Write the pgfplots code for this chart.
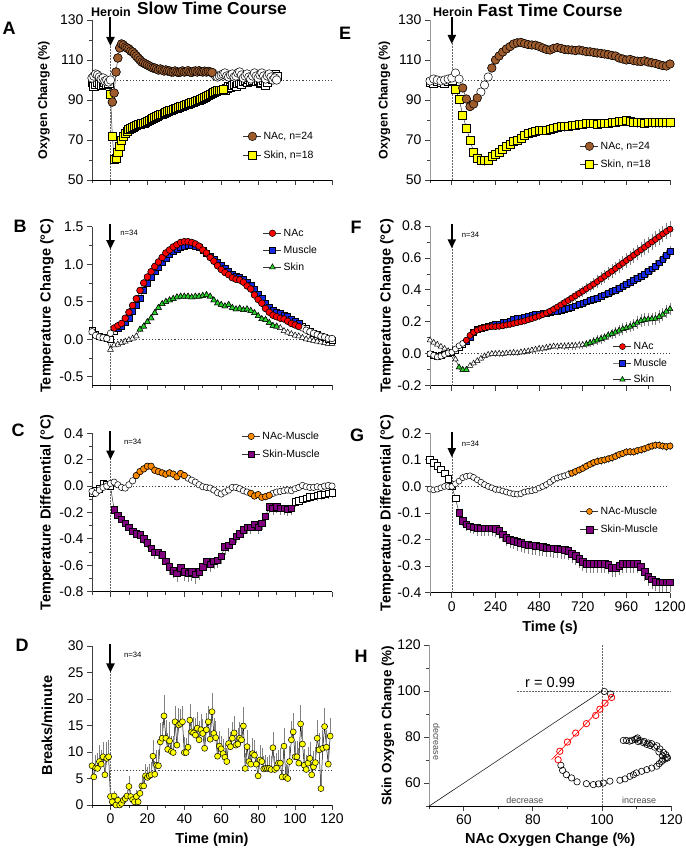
\documentclass[border=0pt]{standalone}
\usepackage{fontspec}
\setmainfont{Liberation Sans}
\usepackage{pgfplots}
\usepackage{pgfplotstable}
\pgfplotsset{compat=1.18}
\usetikzlibrary{arrows.meta}

\definecolor{nacbrown}{RGB}{158,92,45}
\definecolor{skinyel}{RGB}{255,255,0}
\definecolor{nacred}{RGB}{255,0,0}
\definecolor{musblue}{RGB}{20,40,230}
\definecolor{skingreen}{RGB}{40,210,40}
\definecolor{nmorange}{RGB}{255,140,0}
\definecolor{smpurple}{RGB}{128,0,128}

\tikzset{
  harrow/.style={-{Triangle[width=8pt,length=9pt]}, line width=2pt, black},
  vref/.style={dash pattern=on 1.5pt off 1.5pt, line width=0.5pt, black!60},
  href/.style={dash pattern=on 1.2pt off 2pt, line width=0.7pt, black!75},
}

\pgfplotsset{
  prism/.style={scale only axis, anchor=south west, clip=false,
    axis x line*=bottom, axis y line*=left,
    x axis line style={-, line width=0.8pt, black},
    y axis line style={-, line width=0.8pt, black!75},
    tick align=outside, major tick length=5pt, minor tick length=3pt,
    tick style={line width=0.8pt, black!75},
    tick label style={font=\fontsize{14}{14}\selectfont},
    /pgf/number format/assume math mode=true,
    /pgf/number format/1000 sep={},
    legend cell align=left,
    legend style={draw=none, fill=none, font=\fontsize{10.5}{12}\selectfont, anchor=north west, inner sep=0pt, row sep=4pt},
    legend image code/.code={\draw[mark repeat=2,mark phase=2,##1] plot coordinates {(0pt,0pt) (9pt,0pt) (18pt,0pt)};},
    label style={font=\bfseries\fontsize{14.5}{15}\selectfont},
    ylabel style={anchor=center},
    xlabel style={anchor=center},
  },
  slow/.style={xmin=-10, xmax=120, xtick={0,20,40,60,80,100,120}, minor xtick={-10,10,30,50,70,90,110}},
  fast/.style={xmin=-120, xmax=1200, xtick={0,240,480,720,960,1200}, minor xtick={-120,120,360,600,840,1080}},
  dec1/.style={yticklabel style={/pgf/number format/.cd, fixed, fixed zerofill, precision=1}},
  ln/.style={draw=black!80, line width=0.5pt},
  mk/.style={mark options={draw=black, fill=#1, line width=0.5pt, solid}},
  om/.style={only marks, mark options={draw=black, fill=#1, line width=0.5pt, solid}},
  ebx/.style={error bars/y dir=#1, error bars/y explicit, error bars/error mark=none, error bars/error bar style={black!50, line width=0.6pt}},
  ebf/.style 2 args={error bars/y dir=#1, error bars/y fixed=#2, error bars/error mark=none, error bars/error bar style={black!50, line width=0.6pt}},
}

% ---------------- Panel A: oxygen, slow (min) ----------------
\pgfplotstableread{
t nac skin
-10 101 99
-9 102 97
-8 103 98
-7 102.5 99
-6 101.5 98
-5 100.5 97.5
-4 101 98
-3 99.5 99
-2 100 98
-1 99 98.5
0 100 93
1 89 72
2 93.5 60.5
3 104 61
4 111 64
5 116 67
6 118 70
7 117.5 72
8 116.5 73.5
9 116 74.5
10 115.5 75.5
11 114.5 76
12 114 76.5
13 113 77
14 112 77.5
15 111 78
16 110 78
17 109 78.5
18 108.5 78.5
19 108 79
20 107.5 79.5
21 107 80
22 106.5 80.5
23 106 81
24 106 81.5
25 105.5 82
26 105 82.5
27 105.5 83
28 105 83
29 104.5 83.5
30 105 84
31 104.5 84.5
32 104.5 85
33 104 85
34 104 85.5
35 104.5 86
36 104 86
37 103.8 86.5
38 104 87
39 104.5 87
40 104 87.5
41 104.2 88
42 104.6 88
43 104 88.5
44 103.8 89
45 104.3 89
46 104.5 89.5
47 104 90
48 104.6 90
49 104.2 90.5
50 104 91
51 104.4 91.5
52 104 92
53 104.3 92.5
54 104 93
55 103.8 93.5
56 103 94
57 102 94.5
58 101.5 95
59 102 95
60 102.5 95
61 103 95.5
62 103.5 95
63 102 96
64 101.5 97
65 102.5 96.5
66 103 97.5
67 101.5 98
68 102 97
69 103.5 98.5
70 104 99
71 102.5 98
72 101 99.5
73 102 100
74 103 99
75 101.5 100.5
76 100.5 99.5
77 102 100
78 103.5 101
79 102 99.5
80 101 100
81 102.5 98.5
82 103.5 99
83 102 100
84 100.5 97.5
85 102 99
86 103 101
87 101.5 102
88 100 100.5
89 101 103
90 100 102
}\tabA

% ---------------- Panel B: temperature, slow ----------------
\pgfplotstableread{
t nac mus skin
-10 0.10 0.12 0.09
-8 0.05 0.07 0.05
-6 0.03 0.04 0.02
-4 0.02 0.02 0.01
-2 0.01 0.01 0.00
0 0.08 0.00 -0.14
2 0.15 0.10 -0.08
4 0.18 0.14 -0.07
6 0.21 0.17 -0.05
8 0.28 0.22 -0.03
10 0.36 0.28 -0.01
12 0.45 0.37 0.01
14 0.54 0.45 0.04
16 0.65 0.55 0.13
18 0.75 0.65 0.17
20 0.83 0.74 0.23
22 0.90 0.82 0.28
24 0.97 0.90 0.35
26 1.03 0.96 0.42
28 1.09 1.02 0.47
30 1.15 1.08 0.50
32 1.19 1.13 0.52
34 1.23 1.17 0.54
36 1.26 1.20 0.56
38 1.29 1.23 0.57
40 1.30 1.24 0.57
42 1.30 1.25 0.57
44 1.29 1.25 0.56
46 1.27 1.24 0.57
48 1.24 1.22 0.57
50 1.19 1.19 0.58
52 1.15 1.15 0.59
54 1.09 1.11 0.57
56 1.04 1.07 0.52
58 0.98 1.02 0.48
60 0.93 0.98 0.46
62 0.89 0.94 0.44
64 0.86 0.90 0.46
66 0.82 0.87 0.42
68 0.80 0.84 0.40
70 0.79 0.82 0.41
72 0.76 0.80 0.39
74 0.71 0.76 0.40
76 0.67 0.72 0.38
78 0.59 0.66 0.35
80 0.53 0.60 0.31
82 0.48 0.54 0.27
84 0.41 0.48 0.26
86 0.36 0.43 0.22
88 0.32 0.39 0.18
90 0.30 0.36 0.17
92 0.28 0.34 0.15
94 0.27 0.32 0.11
96 0.24 0.30 0.09
98 0.21 0.27 0.07
100 0.19 0.24 0.05
102 0.17 0.21 0.04
104 0.15 0.17 0.02
106 0.12 0.14 0.00
108 0.10 0.11 -0.01
110 0.08 0.08 -0.02
112 0.06 0.06 -0.03
114 0.04 0.04 -0.04
116 0.03 0.02 -0.05
118 0.01 0.00 -0.06
120 0.01 -0.02 -0.06
}\tabB

% ---------------- Panel C: differentials, slow ----------------
\pgfplotstableread{
t nm sm se
-10 -0.04 -0.05 0.01
-8 -0.055 -0.03 0.01
-6 -0.03 -0.02 0.01
-4 -0.01 0.02 0.01
-2 0.00 0.01 0.01
0 0.02 0.00 0.01
2 0.03 -0.18 0.02
4 0.01 -0.22 0.02
6 -0.01 -0.25 0.03
8 -0.015 -0.28 0.03
10 0.01 -0.31 0.03
12 0.04 -0.34 0.03
14 0.08 -0.36 0.03
16 0.11 -0.37 0.04
18 0.13 -0.40 0.04
20 0.15 -0.43 0.04
22 0.15 -0.47 0.05
24 0.12 -0.50 0.05
26 0.11 -0.50 0.05
28 0.10 -0.52 0.06
30 0.09 -0.57 0.06
32 0.10 -0.61 0.06
34 0.09 -0.64 0.06
36 0.07 -0.66 0.07
38 0.095 -0.62 0.07
40 0.08 -0.65 0.07
42 0.06 -0.66 0.07
44 0.045 -0.65 0.07
46 0.03 -0.67 0.07
48 0.01 -0.65 0.06
50 -0.005 -0.61 0.06
52 -0.01 -0.57 0.06
54 -0.015 -0.59 0.06
56 -0.03 -0.57 0.06
58 -0.05 -0.56 0.06
60 -0.06 -0.53 0.06
62 -0.045 -0.46 0.06
64 -0.03 -0.45 0.05
66 -0.01 -0.42 0.05
68 -0.01 -0.38 0.05
70 -0.02 -0.36 0.05
72 -0.035 -0.33 0.05
74 -0.045 -0.31 0.05
76 -0.055 -0.31 0.05
78 -0.075 -0.29 0.05
80 -0.065 -0.31 0.05
82 -0.085 -0.28 0.05
84 -0.08 -0.23 0.05
86 -0.07 -0.155 0.05
88 -0.055 -0.17 0.05
90 -0.045 -0.155 0.05
92 -0.04 -0.17 0.05
94 -0.035 -0.17 0.05
96 -0.03 -0.175 0.05
98 -0.035 -0.17 0.05
100 -0.02 -0.12 0.04
102 -0.01 -0.11 0.04
104 0.005 -0.10 0.04
106 -0.005 -0.09 0.04
108 -0.01 -0.08 0.04
110 -0.01 -0.075 0.04
112 -0.005 -0.07 0.04
114 -0.01 -0.065 0.04
116 0.0 -0.06 0.04
118 0.005 -0.055 0.04
120 0.0 -0.05 0.04
}\tabC

% ---------------- Panel D: locomotion ----------------
\pgfplotstableread{
t v e
-10 7.4 2.8
-9 5.3 2.5
-8 7.0 2.5
-7 6.9 3.0
-6 8.2 3.2
-5 7.7 2.6
-4 9.1 2.8
-3 5.7 3.5
-2 8.8 3.0
-1 9.1 3.2
0 1.6 1.5
1 0.6 1.2
2 1.7 1.0
3 0.0 0.8
4 0.9 0.8
5 0.0 0.6
6 0.3 0.8
7 0.9 1.0
8 1.2 1.0
9 1.7 1.2
10 3.5 2.0
11 1.6 1.3
12 1.0 1.0
13 0.6 1.0
14 1.6 1.2
15 0.6 1.0
16 2.2 1.5
17 3.6 1.8
18 3.6 1.8
19 5.5 2.2
20 5.2 2.0
21 5.5 2.2
22 5.7 2.5
23 9.2 3.0
24 5.8 2.5
25 7.5 2.8
26 7.4 3.0
27 11.9 3.5
28 12.6 3.0
29 16.8 4.0
30 12.6 3.5
31 10.5 3.0
32 12.1 3.5
33 10.1 3.0
34 9.9 3.2
35 15.7 3.0
36 11.3 3.5
37 15.1 3.2
38 15.4 2.8
39 15.7 3.0
40 9.9 3.0
41 9.9 2.8
42 10.9 3.2
43 16.0 3.0
44 13.8 2.8
45 13.6 3.0
46 13.2 3.2
47 14.5 3.0
48 12.3 3.5
49 14.2 3.0
50 13.5 2.8
51 10.7 3.0
52 14.2 3.2
53 15.7 3.0
54 12.4 3.0
55 17.6 3.5
56 13.5 3.0
57 12.7 3.2
58 9.2 3.0
59 11.1 2.8
60 10.6 2.5
61 9.7 2.8
62 9.0 2.5
63 8.2 2.5
64 11.6 3.0
65 11.0 2.8
66 12.6 3.0
67 13.6 3.2
68 11.3 2.8
69 11.5 3.0
70 12.6 3.0
71 12.3 3.2
72 14.9 3.5
73 6.9 3.0
74 11.0 3.2
75 8.2 3.0
76 7.7 2.5
77 9.7 3.0
78 9.4 2.8
79 7.7 2.5
80 5.5 2.5
81 8.5 2.8
82 8.2 2.5
83 6.8 2.5
84 6.9 2.5
85 6.9 2.2
86 6.9 2.5
87 6.7 2.5
88 10.8 3.0
89 6.7 2.5
90 7.0 2.8
91 7.9 2.5
92 7.9 2.8
93 5.3 2.5
94 11.1 3.5
95 5.3 2.5
96 5.0 2.5
97 8.2 3.0
98 12.3 3.5
99 13.8 3.5
100 9.1 3.0
101 9.1 3.0
102 7.9 2.8
103 15.3 3.5
104 11.5 3.2
105 7.5 3.0
106 6.7 2.8
107 7.9 3.0
108 8.8 3.0
109 5.7 2.5
110 7.2 3.0
111 8.0 3.0
112 12.6 3.5
113 10.4 3.2
114 3.1 3.0
115 10.7 3.5
116 14.8 3.5
117 10.9 3.2
118 7.7 3.0
119 13.0 3.5
}\tabD

% ---------------- Panel E: oxygen, fast (s) ----------------
\pgfplotstableread{
t nac skin
-120 99.5 99
-100 100.5 98.5
-80 100 99.5
-60 99.5 99
-40 100 98.5
-20 100.5 99.5
0 101 100
20 103.5 95.5
40 100.5 90.5
60 96 82.5
80 90.5 76
100 86.7 70
120 88 64
140 91 61
160 94 60
180 97.5 59.7
200 101.5 60
220 106 61.7
240 110 62.8
260 112 64
280 114 65.5
300 115.5 67
320 116.7 68
340 118 69.2
360 118.6 70
380 118.8 71
400 118.2 72.3
420 117.7 73.2
440 117.5 74
460 117.4 74.5
480 116.8 75
500 116 75
520 115.3 75
540 115 75.3
560 115.8 75.8
580 116.2 76.2
600 115.8 76.7
620 115.3 76.7
640 115.1 76.8
660 115 77.3
680 114.7 77.6
700 115 78
720 114.6 78
740 114.2 78.3
760 114.1 78.3
780 113.8 78.3
800 113.5 78
820 113.3 78.2
840 113 78.3
860 112.7 78.5
880 112.3 78.7
900 112 78.8
920 111 79.2
940 110.5 79.5
960 110 80
980 110.3 79.5
1000 109.7 78.8
1020 109.4 78.7
1040 109.2 78.7
1060 109.6 78.6
1080 109 78.7
1100 108.6 78.7
1120 108.3 78.7
1140 107.7 78.7
1160 107.2 78.7
1180 107 78.7
1200 108 78.7
}\tabE

% ---------------- Panel F: temperature, fast ----------------
\pgfplotstableread{
t nac en mus em skin es
-120 0.0 0.01 0.0 0.01 0.085 0.015
-100 -0.01 0.01 -0.01 0.01 0.07 0.015
-80 -0.02 0.01 -0.015 0.01 0.058 0.015
-60 -0.015 0.01 -0.01 0.01 0.045 0.015
-40 -0.005 0.01 0.0 0.01 0.032 0.015
-20 0.005 0.01 0.005 0.01 0.018 0.015
0 0.01 0.01 0.01 0.01 0.0 0.015
20 0.03 0.01 0.02 0.01 -0.035 0.015
40 0.05 0.012 0.04 0.012 -0.085 0.015
60 0.065 0.012 0.06 0.012 -0.1 0.015
80 0.085 0.012 0.075 0.012 -0.1 0.015
100 0.115 0.015 0.105 0.015 -0.075 0.015
120 0.135 0.015 0.135 0.015 -0.06 0.015
140 0.148 0.015 0.152 0.015 -0.045 0.015
160 0.158 0.015 0.162 0.015 -0.03 0.015
180 0.163 0.015 0.168 0.015 -0.015 0.015
200 0.167 0.015 0.172 0.015 -0.005 0.015
220 0.17 0.015 0.178 0.015 0.0 0.015
240 0.17 0.015 0.183 0.015 0.0 0.02
260 0.172 0.015 0.188 0.015 0.002 0.02
280 0.175 0.015 0.195 0.015 0.0 0.02
300 0.18 0.018 0.2 0.015 0.003 0.02
320 0.184 0.018 0.207 0.015 0.005 0.02
340 0.19 0.018 0.214 0.015 0.007 0.02
360 0.195 0.018 0.22 0.015 0.005 0.02
380 0.2 0.02 0.226 0.015 0.01 0.02
400 0.205 0.02 0.232 0.018 0.013 0.02
420 0.213 0.02 0.238 0.018 0.017 0.02
440 0.22 0.02 0.243 0.018 0.022 0.02
460 0.228 0.022 0.247 0.018 0.027 0.02
480 0.236 0.022 0.25 0.018 0.032 0.02
500 0.245 0.022 0.253 0.018 0.033 0.02
520 0.255 0.025 0.256 0.02 0.038 0.02
540 0.266 0.025 0.259 0.02 0.043 0.02
560 0.278 0.025 0.263 0.02 0.047 0.02
580 0.292 0.028 0.268 0.02 0.045 0.02
600 0.306 0.028 0.274 0.02 0.048 0.02
620 0.32 0.03 0.28 0.02 0.046 0.025
640 0.334 0.03 0.285 0.022 0.049 0.025
660 0.349 0.03 0.292 0.022 0.05 0.025
680 0.363 0.032 0.3 0.022 0.051 0.025
700 0.378 0.032 0.308 0.022 0.053 0.025
720 0.392 0.035 0.316 0.022 0.056 0.025
740 0.407 0.035 0.325 0.025 0.06 0.025
760 0.421 0.035 0.334 0.025 0.068 0.025
780 0.436 0.038 0.342 0.025 0.076 0.03
800 0.452 0.038 0.35 0.025 0.085 0.03
820 0.469 0.04 0.36 0.025 0.093 0.03
840 0.485 0.04 0.37 0.025 0.102 0.03
860 0.501 0.04 0.38 0.028 0.115 0.03
880 0.517 0.042 0.39 0.028 0.125 0.03
900 0.534 0.042 0.4 0.028 0.135 0.035
920 0.551 0.045 0.41 0.028 0.146 0.035
940 0.567 0.045 0.422 0.03 0.155 0.035
960 0.584 0.045 0.435 0.03 0.162 0.035
980 0.6 0.045 0.448 0.03 0.17 0.035
1000 0.617 0.048 0.462 0.03 0.18 0.035
1020 0.634 0.048 0.474 0.03 0.195 0.04
1040 0.651 0.048 0.485 0.032 0.207 0.04
1060 0.667 0.05 0.5 0.032 0.213 0.04
1080 0.684 0.05 0.515 0.032 0.216 0.04
1100 0.7 0.05 0.532 0.032 0.218 0.04
1120 0.716 0.05 0.55 0.035 0.22 0.04
1140 0.733 0.05 0.57 0.035 0.232 0.04
1160 0.75 0.05 0.59 0.035 0.245 0.04
1180 0.766 0.05 0.615 0.035 0.265 0.04
1200 0.78 0.05 0.64 0.035 0.28 0.04
}\tabF

% ---------------- Panel G: differentials, fast ----------------
\pgfplotstableread{
t nm ne sm se
-120 -0.01 0.01 0.1 0.01
-100 -0.013 0.01 0.09 0.01
-80 -0.01 0.01 0.078 0.01
-60 -0.005 0.01 0.065 0.01
-40 0.0 0.01 0.05 0.01
-20 0.0 0.01 0.03 0.01
0 0.0 0.01 0.0 0.01
20 0.01 0.01 -0.045 0.015
40 0.02 0.012 -0.1 0.02
60 0.033 0.012 -0.13 0.02
80 0.038 0.012 -0.143 0.025
100 0.04 0.012 -0.15 0.025
120 0.034 0.012 -0.153 0.025
140 0.025 0.012 -0.155 0.03
160 0.016 0.012 -0.158 0.03
180 0.007 0.012 -0.158 0.03
200 0.0 0.012 -0.158 0.03
220 -0.005 0.012 -0.158 0.03
240 -0.011 0.012 -0.16 0.03
260 -0.013 0.012 -0.167 0.03
280 -0.017 0.012 -0.18 0.03
300 -0.021 0.012 -0.193 0.03
320 -0.025 0.012 -0.2 0.03
340 -0.028 0.012 -0.205 0.03
360 -0.029 0.012 -0.208 0.035
380 -0.027 0.012 -0.213 0.035
400 -0.021 0.012 -0.217 0.035
420 -0.018 0.012 -0.22 0.035
440 -0.016 0.012 -0.222 0.035
460 -0.013 0.012 -0.224 0.035
480 -0.006 0.012 -0.225 0.035
500 0.0 0.012 -0.227 0.035
520 0.007 0.015 -0.23 0.035
540 0.016 0.015 -0.232 0.035
560 0.026 0.015 -0.233 0.035
580 0.032 0.015 -0.235 0.035
600 0.036 0.015 -0.237 0.035
620 0.04 0.015 -0.238 0.035
640 0.045 0.015 -0.242 0.035
660 0.05 0.015 -0.253 0.035
680 0.056 0.015 -0.262 0.035
700 0.062 0.015 -0.272 0.035
720 0.068 0.015 -0.283 0.035
740 0.076 0.015 -0.29 0.035
760 0.083 0.015 -0.29 0.035
780 0.09 0.015 -0.29 0.035
800 0.094 0.015 -0.29 0.035
820 0.097 0.015 -0.29 0.035
840 0.1 0.015 -0.291 0.035
860 0.104 0.015 -0.295 0.035
880 0.108 0.015 -0.307 0.035
900 0.113 0.015 -0.305 0.035
920 0.12 0.015 -0.298 0.035
940 0.124 0.015 -0.292 0.035
960 0.13 0.015 -0.29 0.035
980 0.131 0.015 -0.29 0.035
1000 0.13 0.015 -0.29 0.035
1020 0.135 0.015 -0.292 0.035
1040 0.138 0.015 -0.303 0.035
1060 0.142 0.015 -0.322 0.035
1080 0.147 0.015 -0.338 0.035
1100 0.152 0.015 -0.35 0.035
1120 0.155 0.015 -0.358 0.035
1140 0.155 0.015 -0.361 0.035
1160 0.152 0.015 -0.361 0.035
1180 0.15 0.015 -0.361 0.035
1200 0.152 0.015 -0.361 0.035
}\tabG

% ---------------- Panel H: NAc vs skin oxygen ----------------
\pgfplotstableread{
x y
100.7 99.8
102.5 98.7
88.1 67.7
88.6 65.5
89.7 63.6
91.2 62.2
92.8 60.5
95.5 59.7
97.5 59.3
99.0 59.6
100.4 60.0
102.3 60.8
105.2 61.2
106.7 61.8
108.1 62.9
109.1 63.6
110.0 64.4
111.5 65.1
113.0 65.8
114.4 66.5
115.9 67.3
116.6 68.4
117.3 69.4
118.3 70.4
119.0 70.9
118.5 72.3
117.8 73.3
116.8 74.8
115.9 76.2
114.4 77.1
113.4 77.4
112.2 78.1
111.0 78.5
109.9 79.2
108.6 78.5
107.1 78.5
106.2 78.5
117.5 71.8
116.5 73.5
115.2 75.6
114.0 76.3
113.0 76.8
112.0 77.5
110.5 78.0
109.5 78.9
110.3 79.6
108.0 78.2
117.6 70.0
118.8 71.2
}\tabHb
\pgfplotstableread{
x y
87.3 70.1
87.8 73.8
90.0 77.8
92.4 81.7
95.5 85.8
98.2 89.4
99.4 92.1
100.9 94.7
102.8 97.2
}\tabHr

\begin{document}
\begin{tikzpicture}
\useasboundingbox (0,0) rectangle (685pt,848pt);

% ===== A =====
\begin{axis}[prism, slow, at={(92pt,668pt)}, width=240pt, height=160pt,
  ymin=50, ymax=130, ytick={50,70,90,110,130}, minor ytick={60,80,100,120}, xticklabels={},
  ylabel={Oxygen Change (\%)},
  ylabel style={font=\bfseries\fontsize{12.5}{13}\selectfont, at={(axis description cs:-0.2,0.5)}},
  legend style={at={(0.629,0.314)}, row sep=6pt}]
\draw[href] (axis cs:0,100) -- (axis cs:120,100);
\draw[vref] (axis cs:0,50) -- (axis cs:0,118);
\draw[harrow] (axis cs:0,131.5) -- (axis cs:0,117);
\addplot[ln, mark=square*, mark size=4.2, mk=white, ebf={both}{1.5}, forget plot] table[x=t,y=skin]{\tabA};
\addplot[om=skinyel, mark=square*, mark size=4.2, restrict x to domain=0:61, forget plot] table[x=t,y=skin]{\tabA};
\addplot[ln, mark=*, mark size=4.3, mk=white, ebf={both}{1}, forget plot] table[x=t,y=nac]{\tabA};
\addplot[om=nacbrown, mark=*, mark size=4.3, restrict x to domain=1:55, forget plot] table[x=t,y=nac]{\tabA};
\addlegendimage{ln, mark=*, mark size=4.3, mk=nacbrown}
\addlegendentry{NAc, n=24}
\addlegendimage{ln, mark=square*, mark size=4.2, mk=skinyel}
\addlegendentry{Skin, n=18}
\end{axis}

% ===== B =====
\begin{axis}[prism, slow, dec1, at={(92pt,463pt)}, width=240pt, height=158.3pt,
  ymin=-0.61, ymax=1.5, ytick={-0.5,0,0.5,1,1.5}, minor ytick={-0.25,0.25,0.75,1.25}, xticklabels={},
  ylabel={Temperature Change (°C)},
  ylabel style={at={(axis description cs:-0.1875,0.5)}},
  legend style={at={(0.7125,1.0)}, row sep=4pt}]
\draw[href] (axis cs:0,0) -- (axis cs:120,0);
\draw[vref] (axis cs:0,-0.61) -- (axis cs:0,1.22);
\draw[harrow] (axis cs:0,1.53) -- (axis cs:0,1.2);
\node[anchor=west, font=\fontsize{7.7}{8}\selectfont] at (axis cs:3.5,1.42) {n=34};
\addplot[ln, mark=triangle*, mark size=3.4, mk=white, ebf={both}{0.03}, forget plot] table[x=t,y=skin]{\tabB};
\addplot[om=skingreen, mark=triangle*, mark size=3.4, restrict x to domain=16:90, forget plot] table[x=t,y=skin]{\tabB};
\addplot[ln, mark=square*, mark size=3.0, mk=white, ebf={both}{0.04}, forget plot] table[x=t,y=mus]{\tabB};
\addplot[om=musblue, mark=square*, mark size=3.0, restrict x to domain=4:102, forget plot] table[x=t,y=mus]{\tabB};
\addplot[ln, mark=*, mark size=3.3, mk=white, ebf={both}{0.04}, forget plot] table[x=t,y=nac]{\tabB};
\addplot[om=nacred, mark=*, mark size=3.3, restrict x to domain=2:102, forget plot] table[x=t,y=nac]{\tabB};
\addlegendimage{ln, mark=*, mark size=3.3, mk=nacred}
\addlegendentry{NAc}
\addlegendimage{ln, mark=square*, mark size=3.0, mk=musblue}
\addlegendentry{Muscle}
\addlegendimage{ln, mark=triangle*, mark size=3.4, mk=skingreen}
\addlegendentry{Skin}
\end{axis}

% ===== C =====
\begin{axis}[prism, slow, dec1, at={(92pt,256.3pt)}, width=240pt, height=158.4pt,
  ymin=-0.8, ymax=0.4, ytick={-0.8,-0.6,-0.4,-0.2,0,0.2,0.4}, minor ytick={-0.7,-0.5,-0.3,-0.1,0.1,0.3}, xticklabels={},
  ylabel={Temperature Differential (°C)},
  ylabel style={at={(axis description cs:-0.1875,0.5)}},
  legend style={at={(0.624,1.023)}, row sep=5pt}]
\draw[href] (axis cs:0,0) -- (axis cs:120,0);
\draw[vref] (axis cs:0,-0.8) -- (axis cs:0,0.22);
\draw[harrow] (axis cs:0,0.415) -- (axis cs:0,0.2);
\node[anchor=west, font=\fontsize{7.7}{8}\selectfont] at (axis cs:5.5,0.334) {n=34};
\addplot[ln, mark=square*, mark size=3.2, mk=white, ebx=minus, forget plot] table[x=t,y=sm,y error=se]{\tabC};
\addplot[om=smpurple, mark=square*, mark size=3.2, restrict x to domain=2:98, forget plot] table[x=t,y=sm]{\tabC};
\addplot[ln, mark=*, mark size=3.2, mk=white, ebf={plus}{0.01}, forget plot] table[x=t,y=nm]{\tabC};
\addplot[om=nmorange, mark=*, mark size=3.2, restrict x to domain=14:40, forget plot] table[x=t,y=nm]{\tabC};
\addplot[om=nmorange, mark=*, mark size=3.2, restrict x to domain=76:86, forget plot] table[x=t,y=nm]{\tabC};
\addlegendimage{ln, mark=*, mark size=3.2, mk=nmorange}
\addlegendentry{NAc-Muscle}
\addlegendimage{ln, mark=square*, mark size=3.2, mk=smpurple}
\addlegendentry{Skin-Muscle}
\end{axis}

% ===== D =====
\begin{axis}[prism, slow, at={(92pt,43pt)}, width=240pt, height=159pt,
  ymin=0, ymax=30, ytick={0,5,10,15,20,25,30},
  xlabel={Time (min)}, xlabel style={at={(axis description cs:0.5,-0.22)}},
  ylabel={Breaks/minute},
  ylabel style={at={(axis description cs:-0.1875,0.5)}}]
\draw[href] (axis cs:0,6.6) -- (axis cs:120,6.6);
\draw[vref] (axis cs:0,0) -- (axis cs:0,25.5);
\draw[harrow] (axis cs:0,30.3) -- (axis cs:0,25);
\node[anchor=west, font=\fontsize{7.7}{8}\selectfont] at (axis cs:5.5,28.3) {n=34};
\addplot[ln, draw=black, mark=*, mark size=3.0, mk=skinyel, ebx=plus, forget plot] table[x=t,y=v,y error=e]{\tabD};
\end{axis}

% ===== E =====
\begin{axis}[prism, fast, at={(430pt,668pt)}, width=240pt, height=160pt,
  y axis line style={black!40},
  ymin=50, ymax=130, ytick={50,70,90,110,130}, minor ytick={60,80,100,120}, xticklabels={},
  ylabel={Oxygen Change (\%)},
  ylabel style={font=\bfseries\fontsize{12.5}{13}\selectfont, at={(axis description cs:-0.19,0.5)}},
  legend style={at={(0.625,0.252)}, row sep=5pt}]
\draw[href] (axis cs:0,100) -- (axis cs:1200,100);
\draw[vref] (axis cs:0,50) -- (axis cs:0,119);
\draw[harrow] (axis cs:0,131.5) -- (axis cs:0,118);
\addplot[ln, mark=square*, mark size=4.0, mk=white, ebf={minus}{2.5}, forget plot] table[x=t,y=skin]{\tabE};
\addplot[om=skinyel, mark=square*, mark size=4.0, restrict x to domain=20:1200, forget plot] table[x=t,y=skin]{\tabE};
\addplot[ln, mark=*, mark size=4.2, mk=white, ebf={both}{1}, forget plot] table[x=t,y=nac]{\tabE};
\addplot[om=nacbrown, mark=*, mark size=4.2, restrict x to domain=60:140, forget plot] table[x=t,y=nac]{\tabE};
\addplot[om=nacbrown, mark=*, mark size=4.2, restrict x to domain=220:1200, forget plot] table[x=t,y=nac]{\tabE};
\addlegendimage{ln, mark=*, mark size=4.2, mk=nacbrown}
\addlegendentry{NAc, n=24}
\addlegendimage{ln, mark=square*, mark size=4.0, mk=skinyel}
\addlegendentry{Skin, n=18}
\end{axis}

% ===== F =====
\begin{axis}[prism, fast, dec1, at={(430pt,462.3pt)}, width=240pt, height=159.7pt,
  y axis line style={black!40},
  ymin=-0.2, ymax=0.8, ytick={-0.2,0,0.2,0.4,0.6,0.8}, minor ytick={-0.1,0.1,0.3,0.5,0.7}, xticklabels={},
  ylabel={Temperature Change (°C)},
  ylabel style={at={(axis description cs:-0.18,0.5)}},
  legend style={at={(0.7625,0.286)}, row sep=3.5pt}]
\draw[href] (axis cs:0,0) -- (axis cs:1200,0);
\draw[vref] (axis cs:0,-0.2) -- (axis cs:0,0.67);
\draw[harrow] (axis cs:0,0.81) -- (axis cs:0,0.66);
\node[anchor=west, font=\fontsize{7.7}{8}\selectfont] at (axis cs:36,0.744) {n=34};
\addplot[ln, mark=triangle*, mark size=3.2, mk=white, ebx=both, forget plot] table[x=t,y=skin,y error=es]{\tabF};
\addplot[om=skingreen, mark=triangle*, mark size=3.2, restrict x to domain=40:80, forget plot] table[x=t,y=skin]{\tabF};
\addplot[om=skingreen, mark=triangle*, mark size=3.2, restrict x to domain=740:1200, forget plot] table[x=t,y=skin]{\tabF};
\addplot[ln, mark=square*, mark size=2.9, mk=white, ebx=both, forget plot] table[x=t,y=mus,y error=em]{\tabF};
\addplot[om=musblue, mark=square*, mark size=2.9, restrict x to domain=80:1200, forget plot] table[x=t,y=mus]{\tabF};
\addplot[ln, mark=*, mark size=3.0, mk=white, ebx=both, forget plot] table[x=t,y=nac,y error=en]{\tabF};
\addplot[om=nacred, mark=*, mark size=3.0, restrict x to domain=80:1200, forget plot] table[x=t,y=nac]{\tabF};
\addlegendimage{ln, mark=*, mark size=3.0, mk=nacred}
\addlegendentry{NAc}
\addlegendimage{ln, mark=square*, mark size=2.9, mk=musblue}
\addlegendentry{Muscle}
\addlegendimage{ln, mark=triangle*, mark size=3.2, mk=skingreen}
\addlegendentry{Skin}
\end{axis}

% ===== G =====
\begin{axis}[prism, fast, dec1, at={(430pt,255.3pt)}, width=240pt, height=159.4pt,
  y axis line style={black!40},
  ymin=-0.4, ymax=0.2, ytick={-0.4,-0.3,-0.2,-0.1,0,0.1,0.2},
  xlabel={Time (s)}, xlabel style={at={(axis description cs:0.5,-0.222)}},
  ylabel={Temperature Differential (°C)},
  ylabel style={at={(axis description cs:-0.18,0.5)}},
  legend style={at={(0.625,0.552)}, row sep=5pt}]
\draw[href] (axis cs:0,0) -- (axis cs:1190,0);
\draw[vref] (axis cs:0,-0.4) -- (axis cs:0,0.12);
\draw[harrow] (axis cs:0,0.205) -- (axis cs:0,0.11);
\node[anchor=west, font=\fontsize{7.7}{8}\selectfont] at (axis cs:36,0.162) {n=34};
\addplot[ln, mark=square*, mark size=3.3, mk=white, ebx=minus, forget plot] table[x=t,y=sm,y error=se]{\tabG};
\addplot[om=smpurple, mark=square*, mark size=3.3, restrict x to domain=40:1200, forget plot] table[x=t,y=sm]{\tabG};
\addplot[ln, mark=*, mark size=3.0, mk=white, ebx=both, forget plot] table[x=t,y=nm,y error=ne]{\tabG};
\addplot[om=nmorange, mark=*, mark size=3.0, restrict x to domain=660:1200, forget plot] table[x=t,y=nm]{\tabG};
\addlegendimage{ln, mark=*, mark size=3.0, mk=nmorange}
\addlegendentry{NAc-Muscle}
\addlegendimage{ln, mark=square*, mark size=3.3, mk=smpurple}
\addlegendentry{Skin-Muscle}
\end{axis}

% ===== H =====
\begin{axis}[prism, at={(429.3pt,42pt)}, width=241.7pt, height=161pt,
  y axis line style={black!40},
  xmin=50, xmax=120, ymin=50, ymax=120,
  xtick={60,80,100,120}, minor xtick={50,70,90,110},
  ytick={60,80,100,120}, minor ytick={50,70,90,110},
  xlabel={NAc Oxygen Change (\%)}, xlabel style={at={(axis description cs:0.5,-0.211)}},
  ylabel={Skin Oxygen Change (\%)},
  ylabel style={font=\bfseries\fontsize{13.5}{14}\selectfont, at={(axis description cs:-0.171,0.5)}}]
\draw[vref] (axis cs:100,50) -- (axis cs:100,120);
\draw[vref] (axis cs:75.5,100) -- (axis cs:120,100);
\addplot[black, line width=0.5pt, forget plot] coordinates {(50,50) (100,100)};
\addplot[red, line width=0.6pt, forget plot] coordinates {(85.4,70.1) (103.3,98.3)};
\addplot[only marks, mark=o, mark size=3.2, mark options={black, line width=0.6pt}, forget plot] table[x=x,y=y]{\tabHb};
\addplot[only marks, mark=o, mark size=3.2, mark options={red, line width=0.8pt}, forget plot] table[x=x,y=y]{\tabHr};
\node[font=\fontsize{14.6}{15}\selectfont] at (axis cs:85,103.6) {r = 0.99};
\node[rotate=-90, font=\fontsize{9}{9}\selectfont, black!70] at (axis cs:52.1,78) {decrease};
\node[font=\fontsize{9}{9}\selectfont, black!70] at (axis cs:77.7,52.6) {decrease};
\node[font=\fontsize{9}{9}\selectfont, black!70] at (axis cs:110.8,52.6) {increase};
\end{axis}

% ===== free text =====
\node[font=\bfseries\fontsize{18}{18}\selectfont] at (9pt,820pt) {A};
\node[font=\bfseries\fontsize{18}{18}\selectfont] at (20pt,622pt) {B};
\node[font=\bfseries\fontsize{18}{18}\selectfont] at (18pt,418pt) {C};
\node[font=\bfseries\fontsize{18}{18}\selectfont] at (22pt,203pt) {D};
\node[font=\bfseries\fontsize{18}{18}\selectfont] at (345pt,815pt) {E};
\node[font=\bfseries\fontsize{18}{18}\selectfont] at (356pt,621pt) {F};
\node[font=\bfseries\fontsize{18}{18}\selectfont] at (357pt,413pt) {G};
\node[font=\bfseries\fontsize{18}{18}\selectfont] at (361pt,192pt) {H};
\node[font=\bfseries\fontsize{17.3}{18}\selectfont] at (212pt,840pt) {Slow Time Course};
\node[font=\bfseries\fontsize{17.3}{18}\selectfont] at (550pt,838pt) {Fast Time Course};
\node[font=\bfseries\fontsize{12.5}{13}\selectfont] at (111pt,835.5pt) {Heroin};
\node[font=\bfseries\fontsize{12.5}{13}\selectfont] at (453pt,835.5pt) {Heroin};
\end{tikzpicture}
\end{document}
